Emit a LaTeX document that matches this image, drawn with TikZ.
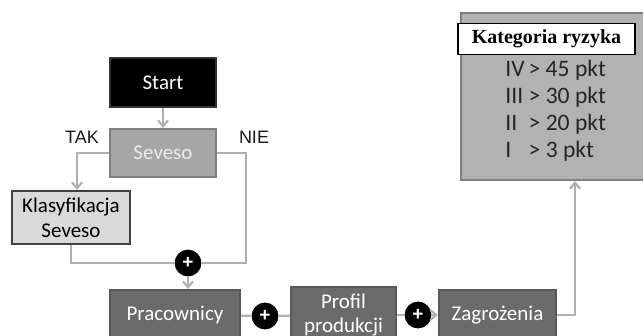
\documentclass[tikz,border=0pt]{standalone}
\usepackage{fontspec}
\setmainfont{Carlito}
\newfontfamily\titlefont{Liberation Serif}
\newfontfamily\labelfont{Liberation Sans}
\usetikzlibrary{positioning}
\usetikzlibrary{arrows.meta}
\definecolor{linegray}{HTML}{B0B0B0}
\definecolor{midgray}{HTML}{A6A6A6}
\definecolor{lightgray}{HTML}{D9D9D9}
\definecolor{darkgray}{HTML}{6B6B6B}
\definecolor{boxgray}{HTML}{B2B2B2}

\begin{document}
\begin{tikzpicture}
                [
                    x=0.5pt, y=-0.5pt,
                    box/.style = {rectangle, draw, line width=1pt, minimum width=53pt, minimum height=24.5pt, font=\fontsize{10.5}{12}\selectfont, align=center},
                    startbox/.style = {box, fill=black, draw=black!80, text=white},
                    decision/.style = {box, fill=midgray, draw=black!50, text=white!92!black},
                    classbox/.style = {box, fill=lightgray, draw=black!75, minimum width=59pt, font=\fontsize{10.5}{12.5}\selectfont},
                    stage/.style = {box, fill=darkgray, draw=black!65, text=white, minimum height=25pt, font=\fontsize{10.5}{12}\selectfont},
                    sumdot/.style = {circle, fill=black, draw=black, inner sep=0pt, minimum size=13pt, text=white, font=\labelfont\bfseries\fontsize{9.5}{9.5}\selectfont},
                    answer/.style = {font=\labelfont\fontsize{9}{10}\selectfont, text=black!90},
                    link/.style = {linegray, line width=1.1pt},
                    arrow/.style = {link, ->, >={Straight Barb[length=3pt, width=5pt]}}
                ]
                \clip (0,0) rectangle (643,336);

                \node (start) [startbox] at (163,82.5) {Start};
                \node (seveso) [decision, below=10pt of start, minimum height=24pt] {Seveso};
                \node (klas) [classbox] at (71,217.5) {Klasyfikacja\\Seveso};

                \node (sum1) [sumdot] at (188,263) {+};
                \node (prac) [stage, minimum width=65pt] at (175,315) {Pracownicy};
                \node (sum2) [sumdot] at (265,316) {+};
                \node (profil) [stage, minimum width=52.5pt] at (343.5,315) {Profil\\produkcji};
                \node (sum3) [sumdot] at (418,315) {+};
                \node (zagr) [stage, minimum width=58.5pt] at (497.5,315) {Zagrożenia};

                \node (kat) [rectangle, draw=black!50, fill=boxgray, line width=1pt, minimum width=114pt, minimum height=83.5pt] at (575,96.5) {};
                \node (kattitle) [rectangle, draw=black, fill=white, line width=0.6pt, minimum width=88.5pt, minimum height=14pt, font=\titlefont\bfseries\fontsize{10}{12}\selectfont] at (546.5,39) {Kategoria ryzyka};
                \node (katlist) [anchor=base west, inner sep=0pt, font=\fontsize{11.8}{13.5}\selectfont, text=black!85] at (505,77) {%
                    \begin{tabular}[t]{@{}l@{\,}l@{}}
                    IV & > 45 pkt\\
                    III & > 30 pkt\\
                    II & > 20 pkt\\
                    I & > 3 pkt
                    \end{tabular}};

                \node[answer] (tak) at (82,137) {TAK};
                \node[answer] (nie) at (254,137) {NIE};

                \coordinate (niecorner) at (246,263);

                \draw[arrow] (start) -- (seveso);
                \draw[arrow] (seveso.west) -| ([xshift=3pt]klas.north);
                \draw[link] (seveso.east) -| (niecorner) -- (sum1);
                \draw[link] (klas.south) |- (sum1);
                \draw[arrow] (sum1) -- (sum1 |- prac.north);
                \draw[link] (prac) -- (sum2);
                \draw[link] (sum2) -- (profil);
                \draw[link] (profil) -- (sum3);
                \draw[arrow] (sum3) -- (zagr);
                \draw[arrow] (zagr.east) -| (kat.south);

            \end{tikzpicture}
\end{document}
